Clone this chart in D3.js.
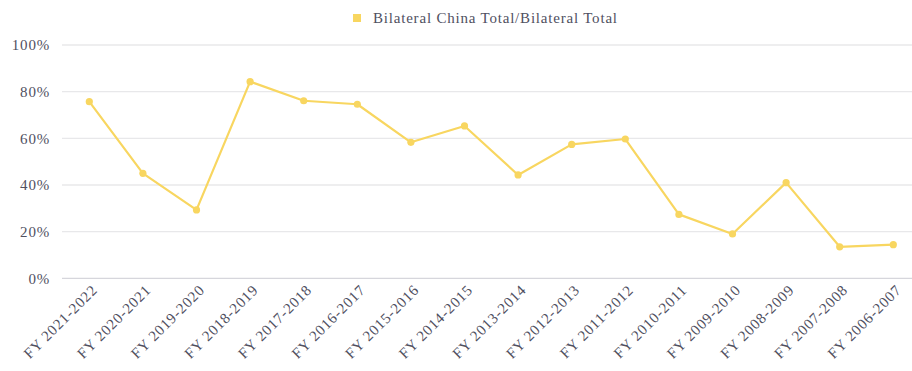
<!DOCTYPE html>
<html>
<head>
<meta charset="utf-8">
<script src="https://cdn.jsdelivr.net/npm/d3@7"></script>
<style>
  html, body { margin: 0; padding: 0; background: #fff; }
  svg { display: block; font-family: "Liberation Serif", "Times New Roman", serif; }
</style>
</head>
<body>
<svg id="chart" width="912" height="371"></svg>
<script>
// Fiscal years, newest first
const categories = [
  "FY 2021-2022", "FY 2020-2021", "FY 2019-2020", "FY 2018-2019",
  "FY 2017-2018", "FY 2016-2017", "FY 2015-2016", "FY 2014-2015",
  "FY 2013-2014", "FY 2012-2013", "FY 2011-2012", "FY 2010-2011",
  "FY 2009-2010", "FY 2008-2009", "FY 2007-2008", "FY 2006-2007"
];
// Share of bilateral total attributable to China (%)
const chinaShare = [
  75.7, 45.0, 29.3, 84.3, 76.1, 74.6, 58.3, 65.3,
  44.3, 57.4, 59.7, 27.4, 19.0, 41.0, 13.5, 14.4
];
const yTicks = [0, 20, 40, 60, 80, 100];
const seriesName = "Bilateral China Total/Bilateral Total";

const plotLeft = 62, plotRight = 912, plotTop = 45, plotBottom = 278.3;
const textColor = "#50505f";
const lineColor = "#f8d660";
const fontSize = 15, spacing = 0.8;

const svg = d3.select("#chart");

const x = d3.scalePoint().domain(categories).range([89.3, 893.3]);
const y = d3.scaleLinear().domain([0, 100]).range([plotBottom, plotTop]);

// Horizontal gridlines with percentage labels
const yAxis = svg.append("g").attr("class", "y-axis");
yAxis.selectAll("line")
  .data(yTicks)
  .join("line")
  .attr("x1", plotLeft).attr("x2", plotRight)
  .attr("y1", d => y(d)).attr("y2", d => y(d))
  .attr("stroke", d => d === 0 ? "#d6d6dc" : "#e8e8ea")
  .attr("stroke-width", 1.3);
yAxis.selectAll("text")
  .data(yTicks)
  .join("text")
  .attr("x", 50)
  .attr("y", d => y(d))
  .attr("dy", "0.35em")
  .attr("text-anchor", "end")
  .attr("font-size", fontSize)
  .attr("letter-spacing", spacing)
  .attr("fill", textColor)
  .text(d => d + "%");

// Rotated category labels
svg.append("g").attr("class", "x-axis")
  .selectAll("text")
  .data(categories)
  .join("text")
  .attr("transform", d => `translate(${x(d) + 9},${291}) rotate(-45)`)
  .attr("text-anchor", "end")
  .attr("font-size", fontSize)
  .attr("letter-spacing", spacing)
  .attr("fill", textColor)
  .text(d => d);

// Series line and markers
const line = d3.line()
  .x((d, i) => x(categories[i]))
  .y(d => y(d));

svg.append("path")
  .datum(chinaShare)
  .attr("d", line)
  .attr("fill", "none")
  .attr("stroke", lineColor)
  .attr("stroke-width", 2.2)
  .attr("stroke-linejoin", "round");

svg.append("g")
  .selectAll("circle")
  .data(chinaShare)
  .join("circle")
  .attr("cx", (d, i) => x(categories[i]))
  .attr("cy", d => y(d))
  .attr("r", 3.6)
  .attr("fill", lineColor);

// Legend
const legend = svg.append("g").attr("class", "legend");
legend.append("rect")
  .attr("x", 353).attr("y", 14)
  .attr("width", 8).attr("height", 8)
  .attr("fill", lineColor);
legend.append("text")
  .attr("x", 373).attr("y", 23)
  .attr("font-size", fontSize)
  .attr("letter-spacing", spacing)
  .attr("fill", textColor)
  .text(seriesName);
</script>
</body>
</html>
